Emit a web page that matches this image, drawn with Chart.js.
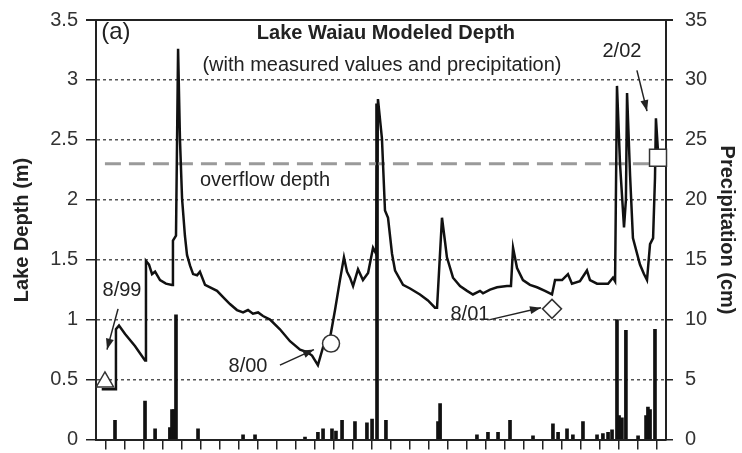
<!DOCTYPE html>
<html>
<head>
  <title>Lake Waiau Modeled Depth</title>
  <style>
    body {
      margin: 0;
      padding: 0;
      background-color: #ffffff;
    }
    #wrap {
      width: 742px;
      height: 453px;
    }
  </style>
  <script src="https://cdn.jsdelivr.net/npm/chart.js"></script>
</head>
<body>
  <div id="wrap"><canvas id="depth_chart" width="742" height="453"></canvas></div>

  <script>
    // x = months since the start of Aug 1999 (30 monthly ticks)
    const depthMonths = [0.30, 1.00, 1.05, 1.21, 1.53, 2.05, 2.58, 2.63, 2.79, 2.95, 3.11, 3.37, 3.68, 4.00,
      4.05, 4.21, 4.32, 4.42, 4.53, 4.68, 4.79, 4.95, 5.11, 5.32, 5.47, 5.74, 6.11, 6.37, 6.74, 7.05, 7.42,
      7.74, 8.00, 8.26, 8.53, 8.79, 9.16, 9.68, 10.21, 10.74, 11.11, 11.37, 11.68, 11.95, 12.32, 12.58, 12.84,
      13.05, 13.21, 13.37, 13.53, 13.79, 14.05, 14.32, 14.58, 14.74, 14.84, 15.05, 15.21, 15.37, 15.58, 15.74,
      16.16, 16.53, 17.05, 17.47, 17.84, 17.95, 18.21, 18.37, 18.47, 18.79, 19.16, 19.53, 19.84, 20.21, 20.37,
      20.74, 21.11, 21.63, 21.84, 21.95, 22.16, 22.47, 22.84, 23.21, 23.63, 24.00, 24.16, 24.53, 24.84, 25.05,
      25.47, 25.84, 26.00, 26.37, 26.95, 27.21, 27.32, 27.42, 27.58, 27.79, 27.89, 27.95, 28.11, 28.26, 28.63,
      28.84, 29.00, 29.16, 29.32, 29.42, 29.47, 29.58, 29.68];
    const depthValues = [0.42, 0.42, 0.92, 0.95, 0.88, 0.78, 0.66, 1.49, 1.46, 1.38, 1.40, 1.33, 1.30, 1.29,
      1.66, 1.70, 3.26, 2.50, 2.01, 1.70, 1.54, 1.45, 1.38, 1.37, 1.40, 1.29, 1.26, 1.24, 1.18, 1.13, 1.08,
      1.06, 1.08, 1.05, 1.06, 1.03, 1.00, 0.92, 0.82, 0.75, 0.73, 0.70, 0.62, 0.77, 0.85, 1.08, 1.33,
      1.52, 1.40, 1.35, 1.28, 1.42, 1.33, 1.39, 1.60, 1.55, 2.84, 2.51, 1.91, 1.85, 1.55, 1.41,
      1.29, 1.26, 1.21, 1.16, 1.10, 1.10, 1.85, 1.65, 1.52, 1.35, 1.28, 1.24, 1.21, 1.24, 1.22,
      1.25, 1.27, 1.28, 1.28, 1.60, 1.43, 1.33, 1.29, 1.27, 1.24, 1.21, 1.33, 1.33, 1.38, 1.30,
      1.32, 1.41, 1.33, 1.30, 1.30, 1.35, 1.32, 2.95, 2.30, 1.77, 2.00, 2.89, 2.20, 1.68, 1.46,
      1.38, 1.33, 1.63, 1.68, 2.18, 2.68, 2.40, 2.30];

    const precipMonths = [1.00, 2.58, 3.11, 3.89, 4.00, 4.11, 4.21, 5.37, 7.74, 8.37, 11.00, 11.68, 11.95,
      12.42, 12.63, 12.95, 13.63, 14.26, 14.53, 14.79, 15.26, 18.00, 18.11, 20.05, 20.63, 21.16, 21.79, 23.00,
      24.05, 24.32, 24.79, 25.10, 25.63, 26.37, 26.68, 26.95, 27.16, 27.42, 27.53, 27.68, 27.89, 28.53, 28.95,
      29.05, 29.16, 29.42];
    const precipValues = [1.6, 3.2, 0.9, 1.0, 2.5, 2.5, 10.4, 0.9, 0.4, 0.4, 0.2, 0.6, 0.9,
      0.9, 0.7, 1.6, 1.5, 1.4, 1.7, 28.0, 1.6, 1.5, 3.0, 0.4, 0.6, 0.6, 1.6, 0.3,
      1.3, 0.6, 0.9, 0.4, 1.5, 0.4, 0.5, 0.6, 0.8, 10.0, 2.0, 1.8, 9.1, 0.3, 2.0,
      2.7, 2.5, 9.2];

    // measured depths: 8/99, 8/00, 8/01, 2/02
    const measuredMonths = [0.47, 12.37, 24.00, 29.58];
    const measuredDepths = [0.48, 0.80, 1.09, 2.35];
    const measuredShapes = ['triangle', 'circle', 'rectRot', 'rect'];

    const overflowDepth = 2.3;
    const overflowMonths = [0.47, 30];

    // text notes and arrows, in (month, depth) units
    const notes = [
      { text: '(a)', x: 1.05, y: 3.40, size: 24, bold: false, align: 'center' },
      { text: 'Lake Waiau Modeled Depth', x: 15.26, y: 3.39, size: 20, bold: true, align: 'center' },
      { text: '(with measured values and precipitation)', x: 15.05, y: 3.12, size: 20, bold: false, align: 'center' },
      { text: 'overflow depth', x: 5.47, y: 2.16, size: 20, bold: false, align: 'left' },
      { text: '8/99', x: 1.37, y: 1.24, size: 20, bold: false, align: 'center' },
      { text: '8/00', x: 8.0, y: 0.61, size: 20, bold: false, align: 'center' },
      { text: '8/01', x: 19.68, y: 1.04, size: 20, bold: false, align: 'center' },
      { text: '2/02', x: 27.68, y: 3.24, size: 20, bold: false, align: 'center' }
    ];
    const arrows = [
      [1.16, 1.09, 0.58, 0.75],
      [9.68, 0.62, 11.47, 0.75],
      [20.74, 1.00, 23.42, 1.10],
      [28.47, 3.08, 29.00, 2.74]
    ];

    const FONT = "'Liberation Sans', Arial, sans-serif";

    function toPoints(xs, ys) {
      return xs.map((v, i) => ({ x: v, y: ys[i] }));
    }

    // 주석 그리기 (titles, labels, arrows, axis titles)
    const notesPlugin = {
      id: 'notes',
      afterDraw(chart) {
        const ctx = chart.ctx;
        const x = chart.scales.x;
        const y = chart.scales.y;
        const area = chart.chartArea;
        ctx.save();

        // solid top frame
        ctx.strokeStyle = '#222';
        ctx.lineWidth = 2;
        ctx.beginPath();
        ctx.moveTo(area.left - 10, area.top);
        ctx.lineTo(area.right + 7, area.top);
        ctx.stroke();

        ctx.fillStyle = '#222';
        ctx.textBaseline = 'middle';
        notes.forEach(n => {
          ctx.font = (n.bold ? 'bold ' : '') + n.size + 'px ' + FONT;
          ctx.textAlign = n.align;
          ctx.fillText(n.text, x.getPixelForValue(n.x), y.getPixelForValue(n.y));
        });

        ctx.strokeStyle = '#222';
        ctx.lineWidth = 1.5;
        arrows.forEach(a => {
          const x1 = x.getPixelForValue(a[0]), y1 = y.getPixelForValue(a[1]);
          const x2 = x.getPixelForValue(a[2]), y2 = y.getPixelForValue(a[3]);
          const ang = Math.atan2(y2 - y1, x2 - x1);
          ctx.beginPath();
          ctx.moveTo(x1, y1);
          ctx.lineTo(x2, y2);
          ctx.stroke();
          ctx.beginPath();
          ctx.moveTo(x2, y2);
          ctx.lineTo(x2 - 11 * Math.cos(ang) + 4 * Math.sin(ang), y2 - 11 * Math.sin(ang) - 4 * Math.cos(ang));
          ctx.lineTo(x2 - 11 * Math.cos(ang) - 4 * Math.sin(ang), y2 - 11 * Math.sin(ang) + 4 * Math.cos(ang));
          ctx.closePath();
          ctx.fill();
        });

        // axis titles
        ctx.font = 'bold 20px ' + FONT;
        ctx.textAlign = 'center';
        ctx.save();
        ctx.translate(22, 230);
        ctx.rotate(-Math.PI / 2);
        ctx.fillText('Lake Depth (m)', 0, 0);
        ctx.restore();
        ctx.save();
        ctx.translate(727, 230);
        ctx.rotate(Math.PI / 2);
        ctx.fillText('Precipitation (cm)', 0, 0);
        ctx.restore();

        ctx.restore();
      }
    };

    var depthChart = new Chart(document.getElementById('depth_chart'), {
      type: 'line',
      data: {
        datasets: [
          {
            label: 'measured',
            data: toPoints(measuredMonths, measuredDepths),
            showLine: false,
            pointStyle: measuredShapes,
            pointRadius: [10, 8.5, 9.5, 12],
            pointBackgroundColor: '#ffffff',
            pointBorderColor: '#333',
            pointBorderWidth: 1.5,
            yAxisID: 'y',
            clip: false,
            order: 0
          },
          {
            label: 'modeled depth',
            data: toPoints(depthMonths, depthValues),
            borderColor: '#111',
            borderWidth: 2.5,
            pointRadius: 0,
            tension: 0,
            yAxisID: 'y',
            order: 1
          },
          {
            label: 'overflow depth',
            data: toPoints(overflowMonths, overflowMonths.map(() => overflowDepth)),
            borderColor: '#9a9a9a',
            borderWidth: 3,
            borderDash: [16, 8],
            pointRadius: 0,
            yAxisID: 'y',
            order: 2
          },
          {
            type: 'bar',
            label: 'precipitation',
            data: toPoints(precipMonths, precipValues),
            backgroundColor: '#111',
            barThickness: 3,
            yAxisID: 'y2',
            order: 3
          }
        ]
      },
      options: {
        responsive: false,
        animation: false,
        layout: { padding: { top: 20, left: 0, right: 0, bottom: 0 } },
        plugins: {
          legend: { display: false },
          tooltip: { enabled: false }
        },
        scales: {
          x: {
            type: 'linear',
            min: 0,
            max: 30,
            offset: false,
            ticks: { stepSize: 1, display: false },
            grid: { drawOnChartArea: false, drawTicks: true, tickLength: 10, color: '#222', lineWidth: 1.5 },
            border: { color: '#222', width: 2 },
            afterFit: s => { s.height = 10; s.paddingLeft = 0; s.paddingRight = 0; }
          },
          y: {
            position: 'left',
            min: 0,
            max: 3.5,
            ticks: {
              stepSize: 0.5, color: '#333', padding: 8, font: { size: 20, family: FONT },
              callback: v => String(v)
            },
            grid: { color: '#555', lineWidth: 1.5, tickLength: 10, tickColor: '#222', tickWidth: 1.5 },
            border: { color: '#222', width: 2, dash: [3, 3] },
            afterFit: s => { s.width = 96; s.paddingTop = 0; s.paddingBottom = 0; }
          },
          y2: {
            position: 'right',
            min: 0,
            max: 35,
            ticks: {
              stepSize: 5, color: '#333', padding: 12, font: { size: 20, family: FONT },
              callback: v => String(v)
            },
            grid: { drawOnChartArea: false, tickLength: 7, color: '#222', lineWidth: 1.5 },
            border: { color: '#222', width: 2 },
            afterFit: s => { s.width = 76; s.paddingTop = 0; s.paddingBottom = 0; }
          }
        }
      },
      plugins: [notesPlugin]
    });
  </script>
</body>
</html>
